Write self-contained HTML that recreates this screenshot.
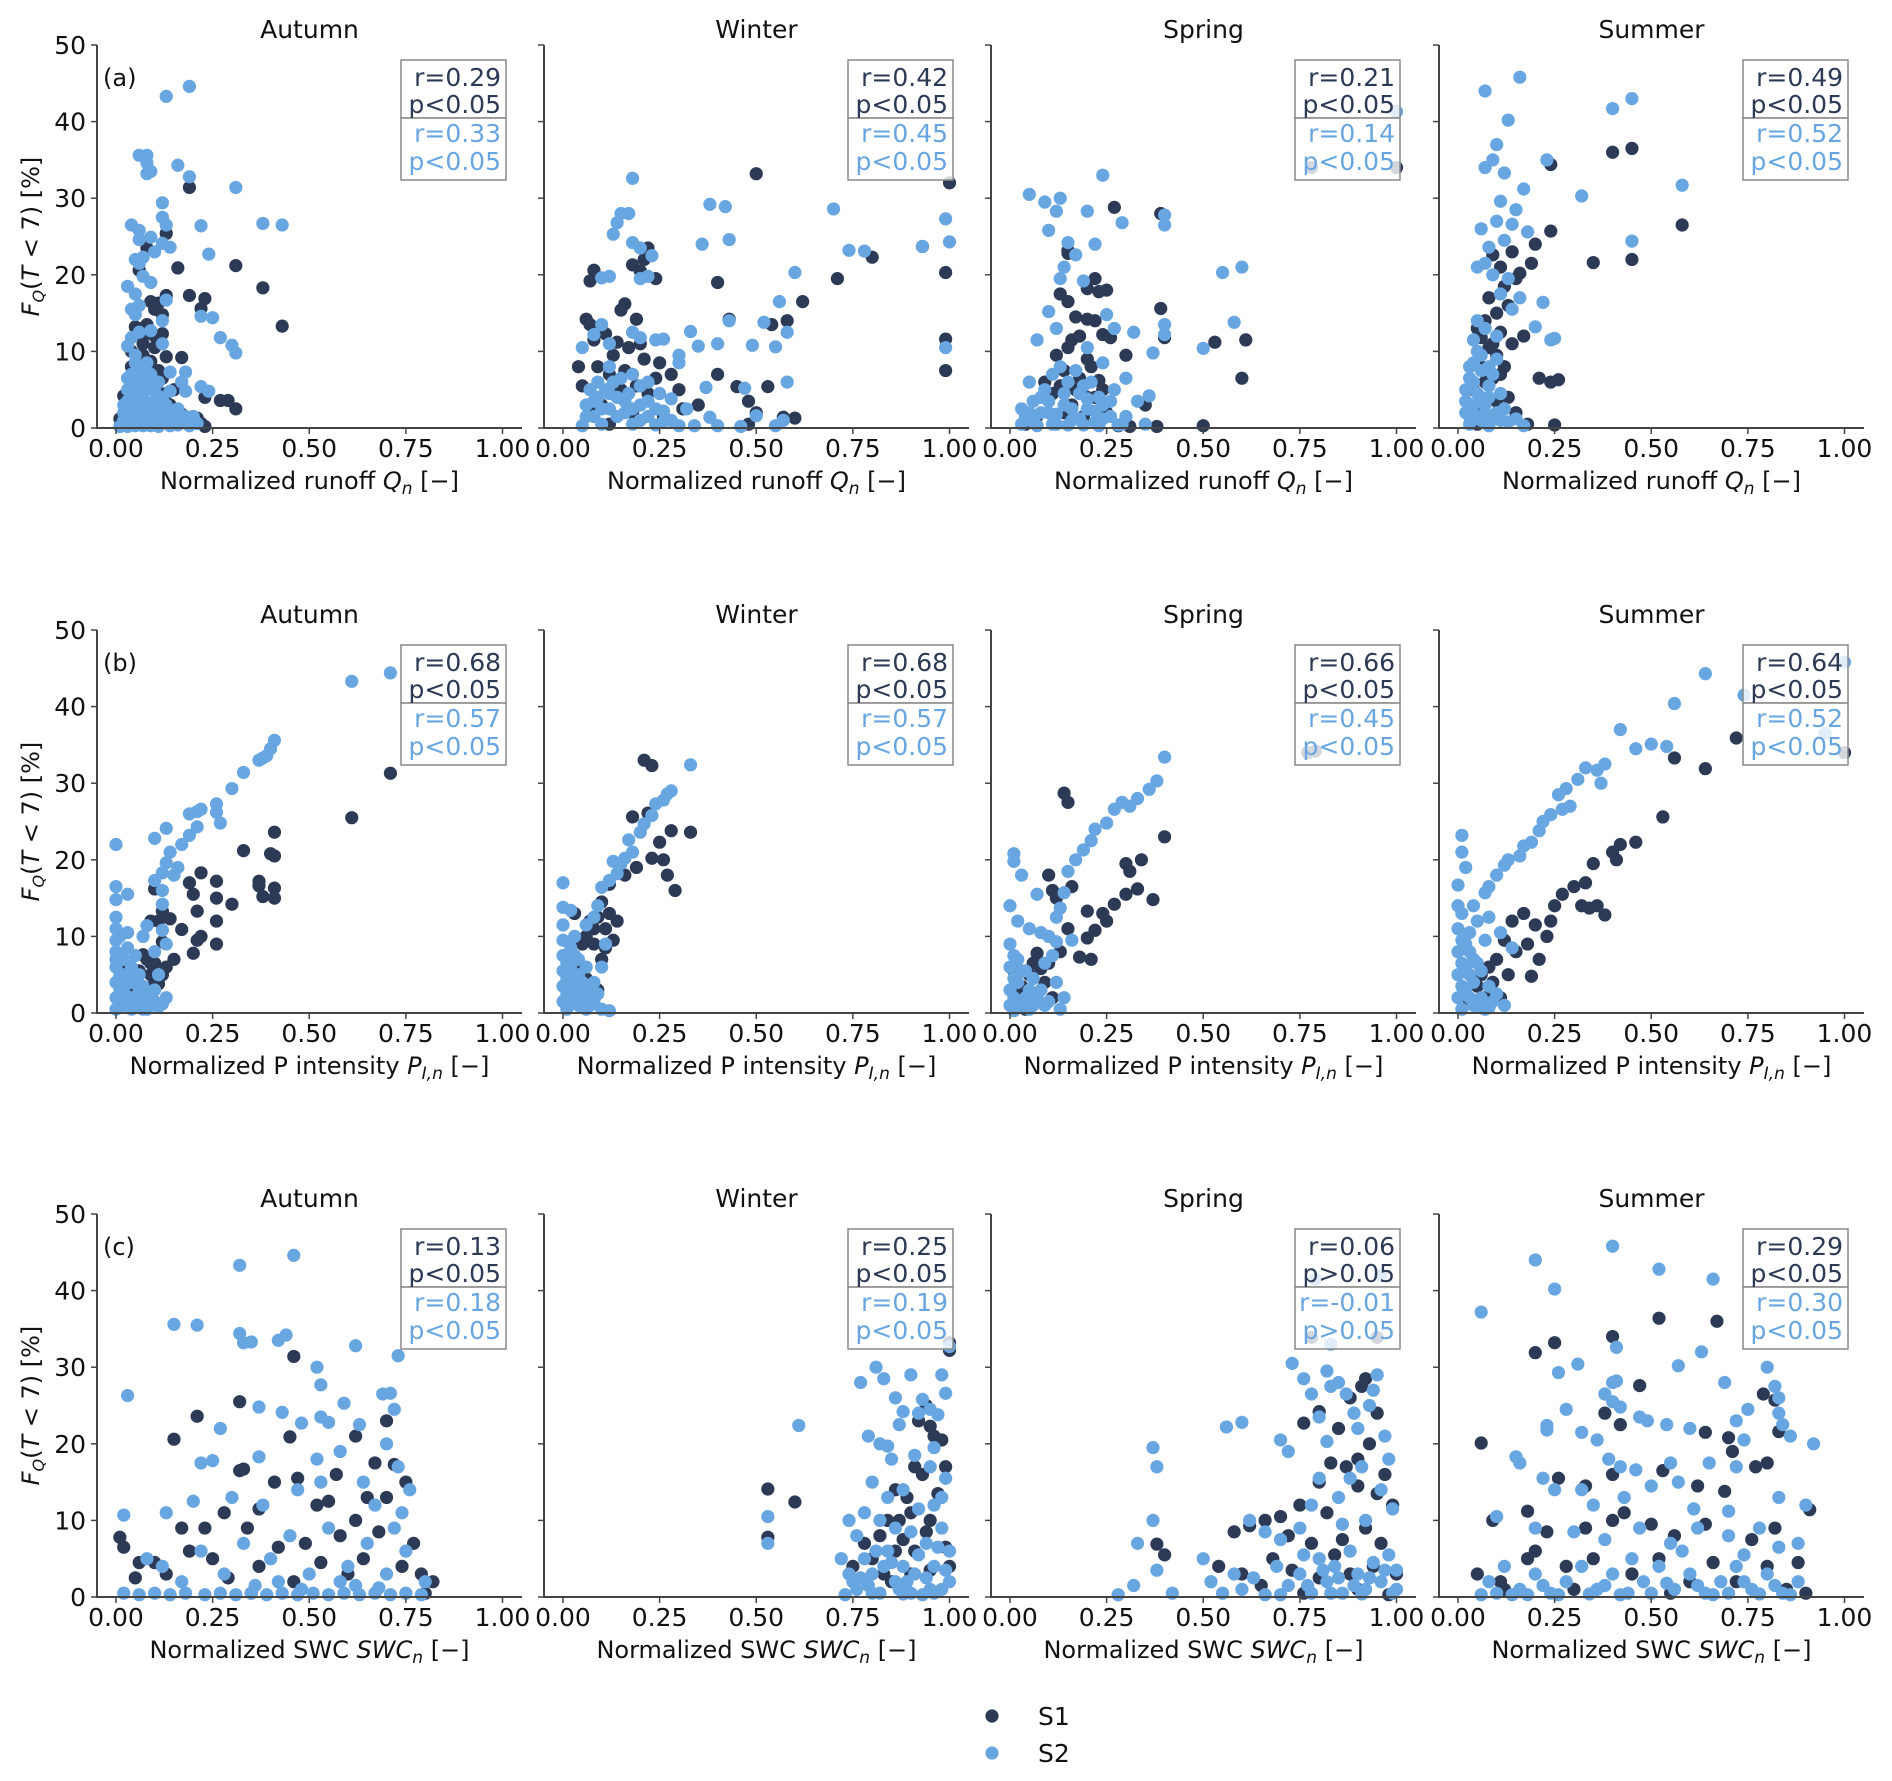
<!DOCTYPE html>
<html><head><meta charset="utf-8"><style>
html,body{margin:0;padding:0;background:#fff;}
svg{display:block;font-family:"DejaVu Sans","Liberation Sans",sans-serif;}
</style></head><body>
<svg id="fig" width="1892" height="1781" viewBox="0 0 1892 1781" xmlns="http://www.w3.org/2000/svg"></svg>
<script>
const seasons = ["Autumn","Winter","Spring","Summer"];
const rowTags = ["(a)","(b)","(c)"];
const yTicks = [0,10,20,30,40,50];
const xTicks = [0,0.25,0.5,0.75,1.0];
const xTickLabels = ["0.00","0.25","0.50","0.75","1.00"];
const statsS1 = [["r=0.29","p<0.05"],["r=0.42","p<0.05"],["r=0.21","p<0.05"],["r=0.49","p<0.05"],
  ["r=0.68","p<0.05"],["r=0.68","p<0.05"],["r=0.66","p<0.05"],["r=0.64","p<0.05"],
  ["r=0.13","p<0.05"],["r=0.25","p<0.05"],["r=0.06","p>0.05"],["r=0.29","p<0.05"]];
const statsS2 = [["r=0.33","p<0.05"],["r=0.45","p<0.05"],["r=0.14","p<0.05"],["r=0.52","p<0.05"],
  ["r=0.57","p<0.05"],["r=0.57","p<0.05"],["r=0.45","p<0.05"],["r=0.52","p<0.05"],
  ["r=0.18","p<0.05"],["r=0.19","p<0.05"],["r=-0.01","p>0.05"],["r=0.30","p<0.05"]];

// ---- row a (runoff) ----
const aAutS1=[0.19,31.4,0.13,25.4,0.08,23.5,0.06,20.6,0.16,20.9,0.31,21.2,0.19,17.3,0.23,16.9,0.22,15.6,0.38,18.3,0.43,13.3,0.13,17.3,0.09,16.5,0.1,15.5,0.11,16.3,0.12,14.8,0.05,13.2,0.06,13,0.07,12,0.12,12.3,0.13,9.3,0.17,9.2,0.09,8.7,0.07,9.5,0.1,10.5,0.12,6.5,0.15,5,0.11,4.6,0.27,3.6,0.29,3.6,0.31,2.5,0.23,4,0.21,1.3,0.22,0.6,0.23,0.2,0.17,1.8,0.18,1.3,0.14,3,0.02,4.2,0.01,1.2,0.03,2.5,0.05,5.5,0.08,3,0.1,2,0.12,0.8,0.06,7,0.09,6,0.04,8,0.06,9.5,0.07,11,0.04,10,0.08,13.5,0.1,12,0.11,7.5,0.13,4.5,0.15,2.5,0.05,1,0.09,1.2,0.07,4.5];
const aAutS2=[0.13,43.3,0.19,44.6,0.06,35.6,0.08,35.6,0.08,34.6,0.08,33.2,0.09,33.5,0.16,34.3,0.19,32.8,0.31,31.4,0.12,29.4,0.12,27.5,0.13,26.5,0.04,26.5,0.06,25.8,0.06,24.6,0.09,24.9,0.12,24.1,0.14,23.6,0.22,26.4,0.38,26.7,0.43,26.5,0.24,22.7,0.05,22,0.07,22.3,0.1,23,0.06,21.5,0.07,19.8,0.09,19,0.03,18.5,0.05,17.5,0.06,16,0.13,16.7,0.04,15.5,0.05,14.8,0.22,14.6,0.25,14.4,0.12,14,0.27,11.8,0.3,10.8,0.31,9.8,0.04,11.8,0.06,12.5,0.09,12.7,0.03,10.7,0.12,11,0.05,9.5,0.08,8.5,0.14,7.3,0.18,7.3,0.17,6,0.22,5.4,0.24,4.8,0.18,4.8,0.14,4.8,0.1,4.8,0.02,0.5,0.03,1.5,0.04,2.5,0.05,3.5,0.06,4.5,0.02,3,0.03,5,0.07,2,0.08,1,0.09,3,0.1,1.5,0.11,0.5,0.12,2.5,0.13,1,0.15,0.8,0.17,1.2,0.2,1.5,0.21,0.6,0.05,6,0.04,7,0.06,7.5,0.07,6.5,0.01,0.2,0.03,0.2,0.05,0.3,0.07,0.3,0.09,0.3,0.11,0.2,0.14,0.3,0.16,0.4,0.19,0.3,0.06,1,0.04,4,0.08,5,0.1,6,0.02,2,0.05,2,0.07,3.8,0.09,2,0.03,3.5,0.04,1,0.06,2.5,0.08,2.5,0.1,3.5,0.12,4,0.14,1.8,0.16,2.5,0.18,1.5,0.05,8.5,0.07,8,0.09,7,0.11,6,0.03,6.5,0.02,1,0.06,6,0.08,6.5,0.13,3];
const aWinS1=[0.5,33.2,0.22,23.5,0.21,22,0.18,21.3,0.2,20.5,0.08,20.6,0.24,19.5,0.07,19.2,0.4,19,0.62,16.5,0.71,19.5,0.8,22.3,0.93,23.7,1.0,32,0.99,20.3,0.99,11.6,0.99,7.5,0.58,14,0.54,13.5,0.43,14.2,0.06,14.2,0.07,13.5,0.11,12.3,0.14,11.2,0.19,14.2,0.2,11,0.17,10.5,0.08,11.5,0.21,9,0.25,8.5,0.09,8,0.12,7,0.05,5.5,0.15,5,0.3,5,0.35,3,0.4,7,0.48,3.5,0.53,5.4,0.48,0.5,0.6,1.3,0.5,2,0.1,3,0.18,2,0.22,4.5,0.26,1.5,0.12,0.5,0.07,2.5,0.04,8,0.16,16.2,0.15,15.4,0.31,2.5,0.45,5.4,0.57,1.4,0.13,9.5,0.16,7.5,0.19,5.5,0.24,6.5,0.28,7];
const aWinS2=[0.18,32.6,0.15,28,0.17,28,0.14,26.8,0.13,25.3,0.18,24.2,0.2,23.5,0.23,22.5,0.1,19.6,0.12,19.8,0.2,19.5,0.22,19.8,0.38,29.2,0.42,28.9,0.43,24.6,0.36,24,0.7,28.6,0.74,23.2,0.78,23.1,0.6,20.3,0.99,27.3,1.0,24.3,0.93,23.7,0.56,16.5,0.52,13.8,0.58,12.5,0.55,10.6,0.49,10.8,0.43,14,0.4,11,0.33,12.6,0.35,10.7,0.3,9.5,0.05,10.5,0.08,12.2,0.1,13.5,0.12,11,0.18,12.5,0.2,11.8,0.24,11.5,0.26,11.6,0.99,10.5,0.58,6,0.47,5.2,0.37,5.3,0.3,8.5,0.28,3.8,0.22,6,0.18,7,0.12,8,0.07,5,0.06,3,0.08,1.5,0.1,0.5,0.12,2.5,0.14,4,0.16,2,0.18,0.5,0.2,3,0.22,1.5,0.24,0.4,0.26,2.2,0.28,1,0.3,0.3,0.32,2.5,0.34,0.3,0.38,1.4,0.4,0.3,0.46,0.2,0.5,1.6,0.55,0.3,0.57,1,0.05,0.3,0.09,6,0.11,5,0.15,6.5,0.2,5.5,0.25,4.5,0.06,1.5,0.08,3.5,0.1,2.5,0.12,4.5,0.14,1.5,0.16,3.5,0.18,2.5,0.2,1,0.22,3.5,0.24,2.5,0.26,0.8,0.09,4,0.13,6,0.17,4.5];
const aSprS1=[0.27,28.8,0.39,28,0.15,23.2,0.15,22.8,0.22,19.5,0.2,18.2,0.23,17.8,0.25,18,0.13,17.5,0.15,16.5,0.17,14.5,0.2,14.2,0.22,14,0.24,12.2,0.26,11.8,0.39,15.6,0.4,11.8,0.53,11.2,0.61,11.5,0.6,6.5,0.3,9.5,0.16,11.5,0.18,12,0.2,9,0.12,9.5,0.14,7.5,0.18,6.5,0.22,4,0.25,2,0.28,0.3,0.31,0.2,0.38,0.2,0.5,0.3,0.09,6,0.11,4.5,0.13,5.5,0.16,3,0.19,1.5,0.21,8,0.07,1.5,0.04,0.5,0.35,3,0.15,10.5,0.23,6.2,0.78,34,1.0,34,0.17,5,0.2,4,0.24,5,0.14,2];
const aSprS2=[0.05,30.5,0.09,29.5,0.13,30,0.12,28.3,0.2,28.3,0.24,33,0.29,26.8,0.4,27.8,0.4,26.5,0.1,25.8,0.15,24.2,0.17,22.6,0.22,24,0.14,21,0.13,19.5,0.19,19.2,0.6,21,0.55,20.3,0.58,13.8,0.5,10.4,0.4,13.5,0.4,12.2,0.37,9.8,0.32,12.5,0.25,14.8,0.27,13,0.1,15.2,0.12,13,0.07,11.5,0.2,10.5,0.24,8.5,0.3,6.5,0.36,4.2,0.33,3.5,0.27,5,0.05,6,0.08,4,0.1,2,0.12,0.5,0.14,3,0.16,1,0.18,4.5,0.2,2.5,0.22,0.8,0.24,3,0.26,1.5,0.28,0.4,0.03,0.5,0.05,2,0.07,0.3,0.09,5,0.11,7,0.13,8,0.15,6,0.17,7.5,0.19,5.5,0.21,6,0.23,4,0.3,1.5,0.35,0.5,0.03,2.5,0.06,3.5,0.29,0.5,1.0,41.3,0.04,1.5,0.06,0.8,0.08,2,0.1,3.5,0.12,1.8,0.14,4.5,0.16,2.5,0.18,1.2,0.2,3.8,0.22,2.2,0.24,1.2,0.26,3.5,0.11,0.5,0.15,0.4,0.19,0.4,0.23,0.3];
const aSumS1=[0.45,36.5,0.4,36,0.24,34.4,0.58,26.5,0.35,21.6,0.45,22,0.24,25.7,0.2,24,0.14,23,0.09,22.6,0.11,21,0.15,19.5,0.16,20.2,0.12,18.5,0.08,17,0.13,16,0.1,15,0.07,14,0.05,13,0.06,11.8,0.08,10.5,0.1,9.5,0.12,8,0.09,6.5,0.07,6,0.04,5,0.06,2.5,0.08,1.5,0.1,3.5,0.13,4,0.15,2,0.18,0.5,0.25,0.4,0.26,6.3,0.21,6.5,0.17,12,0.14,11,0.11,12.5,0.19,21.5,0.24,6,0.05,0.5,0.06,8,0.09,11,0.11,7,0.03,3];
const aSumS2=[0.07,44,0.16,45.8,0.13,40.2,0.4,41.7,0.45,43,0.58,31.7,0.1,37,0.12,33.3,0.07,34,0.09,35,0.23,35,0.32,30.3,0.17,31.2,0.15,28.5,0.11,29.6,0.1,27,0.14,26.6,0.18,25.6,0.06,26,0.12,24.5,0.08,23.6,0.07,21.5,0.05,21,0.09,20,0.13,19.5,0.11,17.5,0.16,17,0.14,15.5,0.22,16.4,0.24,11.5,0.2,13.2,0.25,11.7,0.45,24.4,0.05,14,0.07,13,0.1,12,0.05,10,0.03,8,0.04,6,0.06,4,0.02,2,0.03,0.5,0.05,1.5,0.07,3,0.08,5.5,0.09,7,0.1,9,0.11,4.5,0.12,2.5,0.13,0.8,0.04,11.5,0.02,5,0.06,7.5,0.08,0.3,0.15,1.2,0.17,0.3,0.02,3.5,0.03,1.5,0.04,3,0.05,4.5,0.06,1,0.07,2,0.08,4,0.09,1.2,0.1,2,0.11,1,0.04,8.5,0.06,9.5,0.08,8,0.03,6.5];
// ---- row b (P intensity) ----
const bAutS1=[0.71,31.3,0.61,25.5,0.41,23.6,0.33,21.2,0.4,20.8,0.41,20.5,0.22,18.3,0.26,17.2,0.37,17.2,0.37,16.6,0.41,16.3,0.38,15.2,0.41,15,0.19,17,0.2,15.5,0.26,15,0.3,14.2,0.21,13.3,0.1,16.2,0.12,13.3,0.14,12.3,0.11,12,0.09,12,0.17,10.9,0.26,12,0.26,9,0.22,10,0.21,9.5,0.2,7.8,0.15,7,0.13,6,0.07,7.6,0.1,6.5,0.12,9.3,0.09,5,0.11,3.8,0.05,3,0.07,2,0.03,2.5,0.01,1,0.04,4.5,0.08,0.8,0.06,5.5,0.02,5.8,0.1,4,0.08,7,0.09,6.5,0.12,5];
const bAutS2=[0.61,43.3,0.71,44.4,0.41,35.6,0.4,34.5,0.39,33.6,0.37,33,0.38,33.3,0.33,31.4,0.3,29.3,0.26,27.3,0.26,26.2,0.27,24.8,0.22,26.6,0.21,26.3,0.19,26,0.21,24.3,0.19,23.2,0.17,22,0.14,21,0.13,24.1,0.1,22.8,0.16,19,0.15,18,0.13,19.6,0.12,18.3,0.12,16,0.1,17.3,0.0,22,0.0,16.5,0.03,15.5,0.0,14.8,0.0,12.5,0.0,11,0.01,10,0.03,10.5,0.07,10,0.08,11.4,0.12,10.8,0.12,14.2,0.1,8,0.13,9,0.0,8,0.0,6,0.0,4,0.0,2,0.0,0.5,0.02,7,0.02,5,0.02,3,0.02,1,0.04,6,0.04,4,0.04,2,0.04,0.5,0.06,5,0.06,3,0.06,1,0.08,2,0.08,0.5,0.1,3,0.1,1.5,0.12,1.2,0.13,2,0.11,5,0.05,7.5,0.03,8.5,0.01,3,0.01,5,0.01,7,0.03,1.5,0.03,4,0.05,2,0.05,4.5,0.07,3.5,0.09,2.5,0.07,0.5,0.11,0.8,0.0,9.5,0.0,7];
const bWinS1=[0.21,33,0.23,32.3,0.22,26.1,0.28,23.8,0.33,23.6,0.18,25.6,0.25,22.3,0.23,20.2,0.26,20,0.19,19,0.27,18,0.29,16,0.16,18,0.12,16.8,0.1,14.5,0.12,13,0.09,12.5,0.07,12,0.14,12,0.06,10,0.11,11,0.05,9,0.08,9,0.04,6.5,0.06,4.5,0.03,3,0.05,1.5,0.09,3,0.1,7,0.13,9.5,0.03,13,0.08,11,0.11,8.5];
const bWinS2=[0.33,32.4,0.28,29,0.27,28.6,0.26,27.8,0.24,27.3,0.23,25.8,0.21,24.7,0.2,23.6,0.17,22.6,0.18,21,0.16,20.2,0.15,19.5,0.13,19.8,0.14,18.2,0.12,17.3,0.1,16.4,0.0,17,0.0,13.8,0.02,13.4,0.09,14,0.08,12.5,0.06,11.5,0.0,11.5,0.0,9.5,0.0,7.5,0.0,5.5,0.0,3.5,0.0,1.5,0.02,8.5,0.02,6,0.02,4,0.02,2,0.04,7,0.04,5,0.04,3,0.04,1,0.06,6,0.06,2.5,0.06,0.5,0.08,4,0.08,1.5,0.1,0.5,0.12,0.3,0.1,6,0.11,9,0.03,10,0.01,0.5,0.01,2.5,0.01,4.5,0.01,6.5,0.03,1.5,0.03,5,0.05,2,0.05,4,0.07,3,0.07,1,0.09,2.5,0.03,7.5];
const bSprS1=[0.14,28.7,0.15,27.5,0.4,23,0.34,20,0.3,19.5,0.31,18.5,0.33,16.2,0.3,15.5,0.37,14.8,0.27,14.2,0.1,18,0.11,16,0.16,16.5,0.12,15,0.2,13.3,0.24,13,0.25,12,0.22,10.8,0.2,9.8,0.15,11,0.18,7.3,0.21,7,0.13,8,0.1,6.5,0.07,7.8,0.05,5,0.09,4,0.03,3.5,0.06,2,0.01,5.5,0.11,2,0.04,0.5,0.08,5.8,0.77,34,0.79,34.2,0.06,6.5,0.02,2.5];
const bSprS2=[0.4,33.4,0.38,30.3,0.36,29.2,0.33,28,0.31,27,0.29,27.5,0.27,26.6,0.25,24.8,0.22,24,0.21,22.5,0.19,21.3,0.17,20,0.15,18.5,0.14,15.7,0.13,13.7,0.12,12.5,0.01,20.8,0.01,19.8,0.03,18,0.0,14,0.02,12,0.05,11,0.08,10.5,0.1,10,0.07,15.5,0.12,9.3,0.16,9.5,0.0,9,0.0,6,0.0,3,0.0,1,0.02,7,0.02,4,0.04,5.5,0.04,2,0.06,4.5,0.06,1,0.08,3,0.1,1.5,0.12,4,0.14,2,0.09,6.5,0.11,7.5,0.01,0.3,0.01,2,0.01,4.5,0.01,7.5,0.03,1,0.03,5.5,0.05,3,0.05,0.5,0.07,2,0.09,1,0.13,0.5];
const bSumS1=[0.72,35.9,0.64,31.9,0.56,33.3,0.53,25.6,0.46,22.3,0.42,22,0.4,21,0.41,20,0.35,19.5,0.33,17,0.3,16.5,0.36,14,0.38,12.8,0.34,13.7,0.32,14,0.27,15.5,0.25,14,0.24,12,0.23,10,0.2,11.5,0.17,13,0.14,12,0.12,9.5,0.15,8,0.18,9,0.21,7,0.1,7,0.13,5,0.08,6,0.05,3.5,0.07,2,0.09,4,0.03,1.5,0.11,2,0.19,4.8,1.0,34,0.06,5,0.04,7];
const bSumS2=[0.64,44.3,0.56,40.4,1.0,45.8,0.74,41.5,0.95,36.5,0.5,35.1,0.54,34.8,0.42,37,0.46,34.5,0.38,32.5,0.36,31.7,0.33,32,0.37,30,0.31,30.5,0.28,29.3,0.26,28.5,0.29,27,0.27,26.6,0.24,25.9,0.22,25,0.21,23.8,0.19,22.3,0.17,21.8,0.16,20.5,0.13,20,0.12,19.3,0.1,18,0.08,16.5,0.07,15.7,0.01,23.2,0.01,21,0.02,19,0.0,16.7,0.01,13,0.04,14,0.05,12,0.08,12.5,0.11,10.5,0.14,8.5,0.0,11,0.0,8,0.0,5,0.0,2,0.02,9,0.02,6,0.02,3,0.04,7,0.04,4,0.04,1,0.06,5.5,0.06,2,0.08,3.5,0.08,0.7,0.1,2.5,0.12,1,0.07,9.5,0.03,10.5,0.01,0.5,0.01,3.5,0.01,6.5,0.01,9.5,0.03,2,0.03,5,0.03,8,0.05,1,0.05,6.5,0.07,0.5,0.09,1.5,0.0,14];
// ---- row c (SWC) ----
const cAutS1=[0.46,31.4,0.32,25.5,0.21,23.6,0.15,20.6,0.45,20.9,0.62,21,0.7,23,0.67,17.5,0.72,17.3,0.32,16.5,0.33,16.7,0.41,15,0.47,15.5,0.57,16,0.75,15,0.65,13,0.55,12.5,0.52,12,0.37,11.5,0.28,11,0.17,9,0.01,7.8,0.02,6.5,0.06,4.5,0.05,2.5,0.1,4.5,0.13,3,0.19,6,0.23,9,0.25,5,0.29,2.5,0.34,9,0.37,4,0.42,6.5,0.46,2,0.49,7,0.53,4.5,0.58,8,0.6,3,0.64,5,0.68,8.5,0.7,13,0.74,4,0.77,7,0.79,3,0.82,2,0.8,0.5,0.35,0.5,0.62,10];
const cAutS2=[0.03,26.3,0.15,35.6,0.21,35.5,0.32,43.3,0.46,44.6,0.32,34.4,0.33,33.2,0.35,33.3,0.42,33.5,0.44,34.2,0.52,30,0.62,32.8,0.73,31.5,0.53,27.7,0.69,26.5,0.71,26.6,0.72,24.5,0.59,25.3,0.37,24.8,0.43,24.1,0.53,23.5,0.27,22,0.48,22.7,0.55,22.8,0.63,22.5,0.22,17.5,0.25,17.8,0.37,18.3,0.52,18,0.58,19,0.7,20,0.73,17,0.02,10.7,0.13,11,0.2,12.5,0.3,13,0.38,12,0.47,14,0.53,15,0.64,15,0.76,14,0.08,5,0.12,4,0.17,2,0.22,6,0.28,3,0.33,7,0.4,5,0.45,8,0.5,3,0.55,9,0.6,4,0.65,7,0.7,3,0.75,6,0.8,2,0.02,0.5,0.06,0.3,0.1,0.5,0.14,0.3,0.18,0.5,0.23,0.3,0.27,0.5,0.31,0.3,0.35,0.5,0.39,0.3,0.43,0.5,0.47,0.3,0.51,0.5,0.55,0.3,0.59,0.5,0.63,0.3,0.67,0.5,0.71,0.3,0.75,0.5,0.79,0.3,0.36,1.5,0.42,2,0.48,1,0.58,2,0.62,1.5,0.68,1.2,0.72,9,0.74,11,0.67,12];
const cWinS1=[0.53,14.1,0.53,7.8,0.6,12.4,1.0,33.2,1.0,32.2,0.94,25,0.95,22.3,0.92,23,0.96,21,0.98,20.5,0.91,17,0.93,16,0.99,17,0.86,14,0.89,13,0.97,13.5,0.84,10,0.9,11,0.95,10,0.78,7,0.82,8,0.86,6,0.88,7.5,0.91,6,0.94,8.5,0.99,6.5,0.75,4,0.8,5,0.85,2,0.9,3,0.95,3.5,1.0,4,0.87,10,0.83,3];
const cWinS2=[0.53,7,0.53,10.5,0.61,22.4,0.74,10,0.77,28,0.79,21,0.81,30,0.82,20,0.83,28.5,0.84,19.7,0.85,18,0.86,26,0.87,22.5,0.88,24.2,0.9,29,0.91,18.5,0.92,24,0.93,25.8,0.95,24.5,0.96,19.5,0.97,23.8,0.98,29,0.99,26.6,1.0,32.7,0.95,17,0.99,15.5,0.8,15,0.84,13,0.88,14,0.92,11.5,0.96,12,0.98,13,0.76,8,0.78,11,0.82,10,0.86,9,0.9,8.5,0.94,7,0.98,9,0.72,5,0.74,3,0.76,1,0.78,5,0.8,3,0.82,0.5,0.84,6,0.86,2,0.88,4,0.9,0.5,0.92,5.5,0.94,2.5,0.96,4,0.98,1,1.0,6,1.0,2,0.73,0.3,0.77,2.5,0.81,6,0.85,4.5,0.89,2,0.93,0.3,0.97,6.5,0.99,3.5,0.75,2,0.79,1.5,0.83,4,0.87,1,0.91,3,0.95,1,0.8,0.5,0.88,0.4,0.96,0.5];
const cSprS1=[0.92,28.5,0.91,27.5,0.88,26,0.8,24.2,0.76,22.7,0.85,22,0.95,24,0.93,20,0.9,18,0.87,17,0.83,17.5,0.97,16,0.8,15,0.9,14.5,0.95,13.5,0.99,12,0.75,12,0.82,11,0.92,9,0.7,10.5,0.66,10,0.62,9.3,0.38,6.9,0.4,5.5,0.58,8.5,0.72,8,0.78,7,0.86,7.5,0.96,7,0.54,4,0.6,3,0.68,5,0.73,3.5,0.8,2.5,0.84,5.5,0.88,3,0.94,4,1.0,3,0.65,1.5,0.76,0.5,0.9,1,0.98,0.3,0.78,33.9,0.95,33.9];
const cSprS2=[0.37,19.5,0.38,17,0.33,7,0.37,10,0.38,3.5,0.28,0.3,0.32,1.5,0.42,0.5,0.5,5,0.56,22.2,0.6,22.8,0.7,20.5,0.72,19,0.73,30.5,0.76,28.5,0.78,26.5,0.8,23.5,0.82,29.5,0.83,27.5,0.85,28,0.87,26.5,0.89,24,0.9,22,0.93,25,0.94,27,0.95,29,0.97,21,0.98,18,0.82,20.3,0.8,15.5,0.85,13,0.88,15.5,0.91,17,0.96,14,0.99,11.5,0.62,10,0.66,8.5,0.7,7.5,0.75,9,0.78,12,0.86,9.5,0.92,10,0.52,2,0.55,0.5,0.58,3,0.6,1,0.63,2.5,0.66,0.3,0.69,4,0.72,1.5,0.75,3,0.78,0.5,0.8,5,0.82,2,0.84,4,0.86,0.5,0.88,6,0.9,3,0.92,1,0.94,4.5,0.96,2,0.98,5.5,1.0,1,1.0,3.5,0.76,5.5,0.7,0.3,0.83,33,0.79,41.5,0.96,42,0.77,1.5,0.81,3.5,0.85,2.5,0.89,1.5,0.93,2.5,0.97,3.5,0.83,0.5,0.91,0.4,0.99,0.5];
const cSumS1=[0.52,36.4,0.67,36,0.4,34,0.25,33.2,0.2,31.9,0.47,27.6,0.79,26.5,0.82,25.7,0.06,20.1,0.38,24,0.42,22.5,0.64,21.5,0.7,20.8,0.71,19,0.83,21.6,0.77,17,0.8,17.5,0.4,16,0.53,16.5,0.62,14.5,0.69,13.8,0.26,15.5,0.33,14.5,0.09,10,0.18,11.2,0.23,8.5,0.33,9,0.4,10,0.43,11,0.5,9.5,0.56,8,0.64,9.5,0.76,7.5,0.82,9,0.91,11.4,0.88,4.5,0.05,3,0.11,2,0.18,5,0.28,4,0.35,5,0.45,3,0.52,5,0.6,2,0.66,4.5,0.72,2,0.8,4,0.85,1,0.9,0.5,0.3,1,0.55,0.5,0.2,6,0.12,1];
const cSumS2=[0.06,37.2,0.2,44,0.25,40.2,0.4,45.8,0.52,42.8,0.66,41.5,0.63,32,0.41,32.6,0.31,30.4,0.26,29.3,0.57,30.2,0.69,28,0.4,28,0.41,28.2,0.38,26.5,0.4,25.5,0.42,24.8,0.28,24.5,0.23,22.4,0.23,21.8,0.47,23.5,0.49,23,0.54,22.5,0.6,22,0.72,23,0.74,20.5,0.75,24.5,0.83,24,0.84,22.5,0.86,21,0.92,20,0.82,27.5,0.83,26,0.8,30,0.36,20.5,0.32,21.5,0.15,18.3,0.16,17.5,0.39,18,0.42,17,0.46,16.6,0.55,17.5,0.65,17.5,0.72,17,0.22,15.5,0.25,14,0.32,14,0.35,12,0.43,13,0.5,14.5,0.57,15,0.61,11.5,0.7,11.2,0.83,13,0.9,12,0.1,10.5,0.2,9,0.3,8.5,0.38,7.5,0.47,9,0.55,7,0.62,9,0.7,8,0.78,9,0.88,7,0.08,2,0.12,4,0.16,1,0.2,3,0.24,0.5,0.28,2,0.32,4,0.36,1,0.4,3,0.44,0.5,0.48,2,0.52,4,0.56,1,0.6,3,0.64,0.5,0.68,2,0.72,4,0.76,1,0.8,3,0.84,0.5,0.88,2,0.06,0.3,0.1,0.5,0.14,0.3,0.45,5,0.58,6,0.74,5.5,0.83,6.5,0.18,0.3,0.22,1.5,0.26,0.3,0.34,0.4,0.38,1.5,0.42,0.3,0.5,0.5,0.54,1.8,0.62,1.5,0.66,0.3,0.7,0.5,0.74,2,0.78,0.4,0.82,1.5,0.86,0.3];

const seriesS1=[aAutS1,aWinS1,aSprS1,aSumS1,bAutS1,bWinS1,bSprS1,bSumS1,cAutS1,cWinS1,cSprS1,cSumS1];
const seriesS2=[aAutS2,aWinS2,aSprS2,aSumS2,bAutS2,bWinS2,bSprS2,bSumS2,cAutS2,cWinS2,cSprS2,cSumS2];

const NS="http://www.w3.org/2000/svg";
const svg=document.getElementById('fig');
const C1="#2c3a55", C2="#68a6e2", AX="#444";
const R=6.6;
function mk(tag,attrs,parent){const e=document.createElementNS(NS,tag);for(const k in attrs)e.setAttribute(k,attrs[k]);(parent||svg).appendChild(e);return e;}

const axLefts=[97,544,991,1439], axTops=[45,630,1214];
const W=425,H=383;
const xLabels=[
 ['Normalized runoff ','Q','n'],
 ['Normalized P intensity ','P','I,n'],
 ['Normalized SWC ','SWC','n']];

for(let r=0;r<3;r++){
 for(let c=0;c<4;c++){
  const idx=r*4+c;
  const L=axLefts[c], T=axTops[r];
  const g=mk('g',{});
  
  
  const xs=v=>L+19+v*386.5;
  const ys=v=>T+H-v*(H/50);
  const t=mk('text',{x:L+W/2,y:T-7,'text-anchor':'middle','font-size':25,fill:'#111'},g);
  t.textContent=seasons[c];
  
  
  const d1=seriesS1[idx], d2=seriesS2[idx];
  for(let i=0;i<d1.length;i+=2){
   const p=mk('circle',{cx:xs(d1[i]),cy:ys(d1[i+1]),r:R,fill:C1},g);
   
   
  }
  for(let i=0;i<d2.length;i+=2){
   const p=mk('circle',{cx:xs(d2[i]),cy:ys(d2[i+1]),r:R,fill:C2},g);
   
   
  }
  const sp=mk('path',{d:`M${L},${T}V${T+H}H${L+W}`,stroke:AX,'stroke-width':2,fill:'none'},g);
  
  
  xTicks.forEach((v,k)=>{
   mk('line',{x1:xs(v),x2:xs(v),y1:T+H,y2:T+H+6,stroke:AX,'stroke-width':1.5},g);
   const tl=mk('text',{x:xs(v),y:T+H+29,'text-anchor':'middle','font-size':25,fill:'#111'},g);
   tl.textContent=xTickLabels[k];
   
   
  });
  yTicks.forEach(v=>{
   mk('line',{x1:L-6,x2:L,y1:ys(v),y2:ys(v),stroke:AX,'stroke-width':1.5},g);
   if(c===0){
    const tl=mk('text',{x:L-11,y:ys(v)+9,'text-anchor':'end','font-size':25,fill:'#111'},g);
    tl.textContent=String(v);
    
    
   }
  });
  const xl=mk('text',{x:L+W/2,y:T+H+61,'text-anchor':'middle','font-size':24,fill:'#111'},g);
  
  
  const lb=xLabels[r];
  const s1=mk('tspan',{},xl); s1.textContent=lb[0];
  const s2=mk('tspan',{'font-style':'italic'},xl); s2.textContent=lb[1];
  const s3=mk('tspan',{'font-style':'italic','font-size':17,dy:5},xl); s3.textContent=lb[2];
  const s4=mk('tspan',{dy:-5},xl); s4.textContent=' [\u2212]';
  if(c===0){
   const rt=mk('text',{x:L+6,y:T+41,'font-size':24,fill:'#111'},g);
   rt.textContent=rowTags[r];
   
   
   const yl=mk('text',{x:0,y:0,'text-anchor':'middle','font-size':24,fill:'#111',transform:`translate(39,${T+H/2}) rotate(-90)`},g);
   
   
   const a=mk('tspan',{'font-style':'italic'},yl);a.textContent='F';
   const b=mk('tspan',{'font-style':'italic','font-size':16,dy:5},yl);b.textContent='Q';
   const cc=mk('tspan',{dy:-5},yl);cc.textContent='(';
   const d=mk('tspan',{'font-style':'italic'},yl);d.textContent='T';
   const e=mk('tspan',{},yl);e.textContent=' < 7) [%]';
  }
  const bx=L+304, by=T+15;
  const box=mk('g',{},g);
  
  
  mk('rect',{x:bx,y:by,width:105,height:58,fill:'#fff','fill-opacity':0.8,stroke:'#888','stroke-width':1.5},box);
  mk('rect',{x:bx,y:by+58,width:105,height:62,fill:'#fff','fill-opacity':0.8,stroke:'#888','stroke-width':1.5},box);
  const lines=[[statsS1[idx][0],C1,by+26],[statsS1[idx][1],C1,by+53],[statsS2[idx][0],C2,by+82],[statsS2[idx][1],C2,by+110]];
  lines.forEach(([s,col,yy])=>{
   const tt=mk('text',{x:bx+100,y:yy,'text-anchor':'end','font-size':25,fill:col},box);
   tt.textContent=s;
   
   
  });
 }
}
const lg=mk('g',{});


[["S1",C1,1716],["S2",C2,1753]].forEach(([n,col,yy])=>{
 const e=mk('g',{},lg);
 
 
 mk('circle',{cx:992,cy:yy,r:R,fill:col},e);
 const t=mk('text',{x:1038,y:yy+9,'font-size':25,fill:'#111'},e);
 t.textContent=n;
});
</script>
</body></html>
